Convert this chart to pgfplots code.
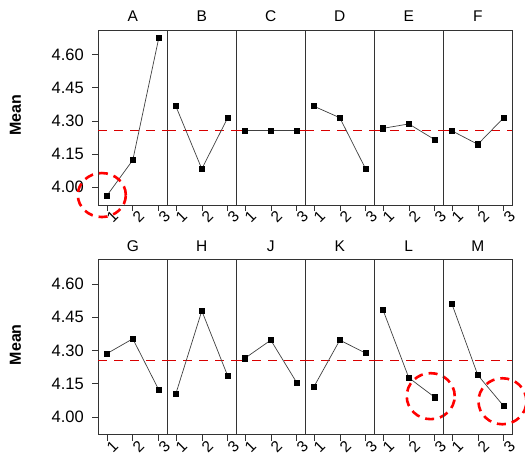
\documentclass[border=0pt]{standalone}
\usepackage{fontspec}
\setmainfont{Liberation Sans}
\usepackage{pgfplots}
\pgfplotsset{compat=1.18}
\tikzset{ring/.style={red, line width=2.6pt, dash pattern=on 9pt off 6pt}}
\pgfplotsset{
  panel/.style={
    scale only axis, width=69pt, height=175pt, anchor=south west,
    xmin=0.67, xmax=3.33, ymin=3.92, ymax=4.71,
    xtick={1,2,3}, xticklabels={1,2,3}, xtick pos=bottom, ytick pos=left,
    tick align=outside, major tick length=6pt,
    tick style={black!80, line width=0.6pt},
    xticklabel style={rotate=45, anchor=center, yshift=-8pt, font=\fontsize{15.5}{15.5}\selectfont},
    yticklabel style={xshift=-5pt, font=\fontsize{16.5}{16.5}\selectfont, /pgf/number format/.cd, fixed, fixed zerofill, precision=2},
    /pgf/number format/assume math mode=true,
    axis line style={black!80, line width=0.6pt},
    title style={at={(0.5,1)}, anchor=south, yshift=-1pt, font=\fontsize{15.5}{15.5}\selectfont},
    ytick=\empty, clip=false,
  },
  first/.style={
    ytick={4.00,4.15,4.30,4.45,4.60},
    ylabel={Mean},
    ylabel style={at={(axis description cs:-1.2,0.514)}, anchor=center, font=\bfseries\fontsize{16}{16}\selectfont},
  },
  meanline/.style={red!85!black, line width=0.7pt, dash pattern=on 9pt off 7pt},
  ser/.style={black!75, line width=0.7pt, mark=square*, mark size=2.6pt, mark options={black, solid}},
}
\newcommand{\panel}[6]{%
  \begin{axis}[panel, at={(#1pt,#2pt)}, title={#3}, #4]
    \addplot[meanline] coordinates {(0.67,4.255) (3.33,4.255)};
    \addplot[ser] coordinates {#5};
    #6
  \end{axis}}
\begin{document}
\begin{tikzpicture}
\useasboundingbox (0,0) rectangle (525pt,-459pt);
% top row
\panel{98.3}{-205}{A}{first}{(1,3.962) (2,4.123) (3,4.673)}{\draw[ring] (axis cs:0.806,3.965) ellipse [x radius=24pt, y radius=22pt];}
\panel{167.3}{-205}{B}{}{(1,4.366) (2,4.083) (3,4.314)}{}
\panel{236.3}{-205}{C}{}{(1,4.255) (2,4.255) (3,4.255)}{}
\panel{305.3}{-205}{D}{}{(1,4.366) (2,4.314) (3,4.082)}{}
\panel{374.3}{-205}{E}{}{(1,4.266) (2,4.286) (3,4.215)}{}
\panel{443.3}{-205}{F}{}{(1,4.255) (2,4.194) (3,4.314)}{}
% bottom row
\panel{98.3}{-434.7}{G}{first}{(1,4.286) (2,4.353) (3,4.123)}{}
\panel{167.3}{-434.7}{H}{}{(1,4.105) (2,4.479) (3,4.185)}{}
\panel{236.3}{-434.7}{J}{}{(1,4.265) (2,4.347) (3,4.155)}{}
\panel{305.3}{-434.7}{K}{}{(1,4.136) (2,4.347) (3,4.288)}{}
\panel{374.3}{-434.7}{L}{}{(1,4.485) (2,4.177) (3,4.089)}{\draw[ring] (axis cs:2.845,4.094) ellipse [x radius=24pt, y radius=23pt];}
\panel{443.3}{-434.7}{M}{}{(1,4.511) (2,4.189) (3,4.049)}{\draw[ring] (axis cs:2.95,4.071) ellipse [x radius=24pt, y radius=23pt];}
\end{tikzpicture}
\end{document}
